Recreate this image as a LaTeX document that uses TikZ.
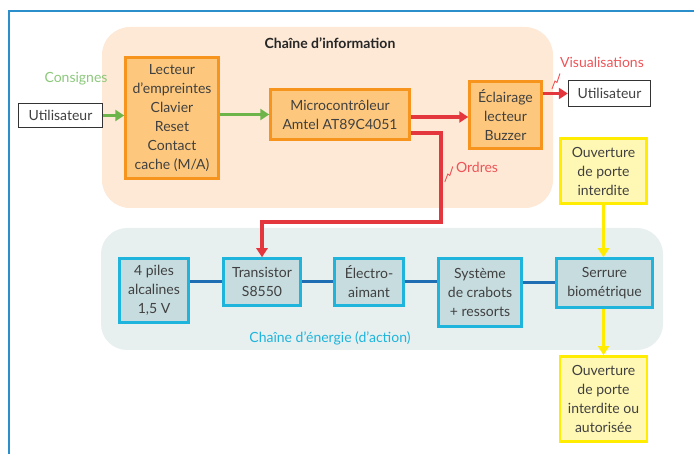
\documentclass[tikz,border=0pt]{standalone}
\usepackage{fontspec}
\setmainfont{Lato}
\usetikzlibrary{arrows.meta,positioning}

\definecolor{txtgray}{HTML}{404040}
\definecolor{framebl}{HTML}{2B8FCB}
\definecolor{peach}{HTML}{FDE9D6}
\definecolor{orgborder}{HTML}{F7941D}
\definecolor{orgfill}{HTML}{FDC87E}
\definecolor{nrjbg}{HTML}{E7F0EF}
\definecolor{cyanborder}{HTML}{1FB4DC}
\definecolor{cyanfill}{HTML}{C7DCDF}
\definecolor{linkblue}{HTML}{1F6EB4}
\definecolor{yelborder}{HTML}{FFEC00}
\definecolor{yelfill}{HTML}{FFF8B5}
\definecolor{grn}{HTML}{6DB54B}
\definecolor{grntxt}{HTML}{8BC87A}
\definecolor{redl}{HTML}{E4373D}
\definecolor{redtxt}{HTML}{EE5458}

\tikzset{
  box/.style={draw, align=center, inner sep=0pt, text=txtgray,
    font=\fontsize{14}{19}\selectfont},
  infobox/.style={box, draw=orgborder, fill=orgfill, line width=2.5pt},
  nrjbox/.style={box, draw=cyanborder, fill=cyanfill, line width=2.5pt},
  yelbox/.style={box, draw=yelborder, fill=yelfill, line width=2.8pt},
  userbox/.style={box, draw=black!80, fill=white, line width=1.3pt},
  tip/.style={-{Triangle[length=9pt,width=11pt]}},
  greenlink/.style={draw=grn, line width=3pt, tip},
  redlink/.style={draw=redl, line width=3.2pt, tip},
  yellink/.style={draw=yelborder, line width=3pt, tip},
  bluelink/.style={draw=linkblue, line width=3pt},
  zig/.style={draw=redtxt, line width=0.9pt},
  lbl/.style={font=\fontsize{14}{19}\selectfont, inner sep=0pt},
}

\begin{document}
\begin{tikzpicture}[x=1pt,y=-1pt]
\useasboundingbox (0,0) rectangle (694,454);

% cadre
\draw[framebl, line width=1.6pt] (694,11) -- (9,11) -- (9,454);

% fonds des deux chaines
\fill[peach, rounded corners=28pt] (102,27) rectangle (553,208);
\fill[nrjbg, rounded corners=26pt] (101,228) rectangle (663,350);
\node[lbl, text=black!85] (titinfo) at (330,43) {\bfseries Chaîne d’information};
\node[lbl, text=cyanborder] (titnrj) at (330,338) {Chaîne d’énergie (d’action)};

% chaine d'information
\node[userbox, minimum width=84pt, minimum height=24pt] (util1) at (60.5,115.5) {Utilisateur};
\node[infobox, minimum width=93pt, minimum height=121pt] (lecteur) at (172,118)
  {Lecteur\\d’empreintes\\Clavier\\Reset\\Contact\\cache (M/A)};
\node[infobox, minimum width=139pt, minimum height=50pt] (micro) at (340,114.5)
  {Microcontrôleur\\Amtel AT89C4051};
\node[infobox, minimum width=72pt, minimum height=67pt] (eclair) at (505.5,115)
  {Éclairage\\lecteur\\Buzzer};
\node[userbox, minimum width=82pt, minimum height=26pt] (util2) at (609.5,93.5) {Utilisateur};
\node[yelbox, minimum width=86pt, minimum height=65pt] (interdit) at (603.5,171)
  {Ouverture\\de porte\\interdite};

% chaine d'energie
\node[nrjbox, minimum width=69pt, minimum height=64pt] (piles) at (154,290.5)
  {4 piles\\alcalines\\1,5 V};
\node[nrjbox, minimum width=77pt, minimum height=47pt] (trans) at (262,282)
  {Transistor\\S8550};
\node[nrjbox, minimum width=69pt, minimum height=47pt] (electro) at (369,282)
  {Électro-\\aimant};
\node[nrjbox, minimum width=83pt, minimum height=68pt] (systeme) at (480,292.5)
  {Système\\de crabots\\+ ressorts};
\node[nrjbox, minimum width=96pt, minimum height=49pt] (serrure) at (604.5,283)
  {Serrure\\biométrique};
\node[yelbox, minimum width=87pt, minimum height=85pt] (autor) at (603.5,399)
  {Ouverture\\de porte\\interdite ou\\autorisée};

% etiquettes
\node[lbl, text=grntxt] (consignes) at (76,79) {Consignes};
\node[lbl, text=redtxt] (visu) at (602,62) {Visualisations};
\node[lbl, text=redtxt] (ordres) at (477,167) {Ordres};

% liaisons
\draw[greenlink] (util1.east) -- (util1.east -| lecteur.west);
\draw[greenlink] (lecteur.east |- micro.west) -- (micro.west);
\draw[redlink] ([yshift=-2.5pt]micro.east) -- ([yshift=-2.5pt]micro.east -| eclair.west);
\draw[redlink] (eclair.east |- util2.west) -- (util2.west);
\draw[redlink] ([yshift=-18.5pt]micro.east) -| (441,222) -| (trans.north);
\draw[yellink] (interdit.south) -- (interdit.south |- serrure.north);
\draw[yellink] (serrure.south -| autor.north) -- (autor.north);
\draw[bluelink] (trans.west -| piles.east) -- (trans.west);
\draw[bluelink] (trans.east) -- (electro.west);
\draw[bluelink] (electro.east) -- (electro.east -| systeme.west);
\draw[bluelink] (serrure.west -| systeme.east) -- (serrure.west);

% eclairs
\draw[zig] ([shift={(-8pt,-27pt)}]visu.west) -- ++(3,-8) -- ++(2,1.5) -- ++(3,-9);
\draw[zig] ([shift={(-11pt,-15pt)}]ordres.west) -- ++(3,-8) -- ++(2,1.5) -- ++(3,-9);
\end{tikzpicture}
\end{document}
